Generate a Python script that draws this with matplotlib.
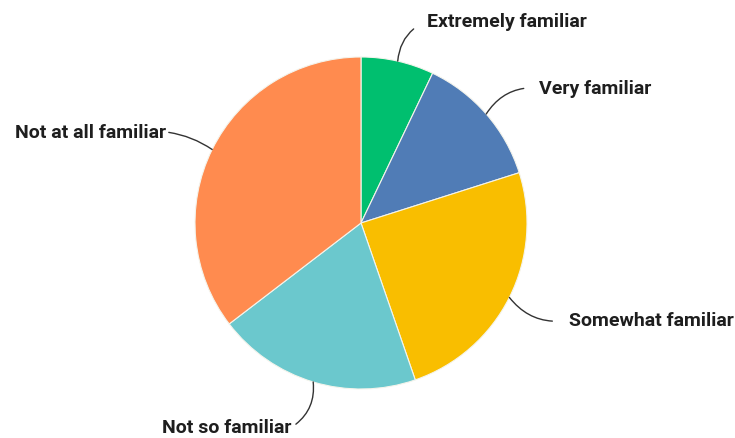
import numpy as np
import matplotlib
matplotlib.use("Agg")
import matplotlib.pyplot as plt

# Familiarity survey responses (percent of respondents), clockwise from 12 o'clock
categories = ["Extremely familiar", "Very familiar", "Somewhat familiar",
              "Not so familiar", "Not at all familiar"]
shares = [7.1, 13.0, 24.6, 19.9, 35.4]
colors = ["#00BF6F", "#507CB6", "#F9BE00", "#6BC8CD", "#FF8B4F"]

W, H = 735, 439
fig = plt.figure(figsize=(W / 100, H / 100), dpi=100)
ax = fig.add_axes([0, 0, 1, 1])

cx, cy, r = 361, H - 224, 166
ax.pie(shares, colors=colors, startangle=90, counterclock=False,
       center=(cx, cy), radius=r, frame=True,
       wedgeprops=dict(edgecolor="#f4f4ec", linewidth=0.8))
ax.set_xlim(0, W)
ax.set_ylim(0, H)
ax.set_aspect("equal")
ax.axis("off")

# label placement (text anchor, alignment, leader curvature, gap at text)
label_pos = [(427, H - 22, "left", 0.3, 9),
             (539, H - 89, "left", 0.3, 9),
             (569, H - 321, "left", -0.3, 10),
             (292, H - 428, "right", 0.3, 1),
             (166, H - 133, "right", -0.12, 0)]

font = dict(family=["Roboto", "DejaVu Sans"],
            weight="bold", size=14, color="#1e1e1e")

cum = np.cumsum([0] + shares)
for i, name in enumerate(categories):
    mid = (cum[i] + cum[i + 1]) / 2 / 100 * 360
    theta = np.deg2rad(90 - mid)
    px, py = cx + r * np.cos(theta), cy + r * np.sin(theta)
    tx, ty, ha, rad, gap = label_pos[i]
    relx = 0.0 if ha == "left" else 1.0
    ax.annotate(name, xy=(px, py), xytext=(tx, ty), ha=ha, va="center",
                arrowprops=dict(arrowstyle="-", color="#333333", lw=1.0,
                                shrinkA=gap, shrinkB=0, relpos=(relx, 0.5),
                                connectionstyle=f"arc3,rad={rad}"),
                **font)

fig.savefig("out.png", dpi=100, facecolor="white")
